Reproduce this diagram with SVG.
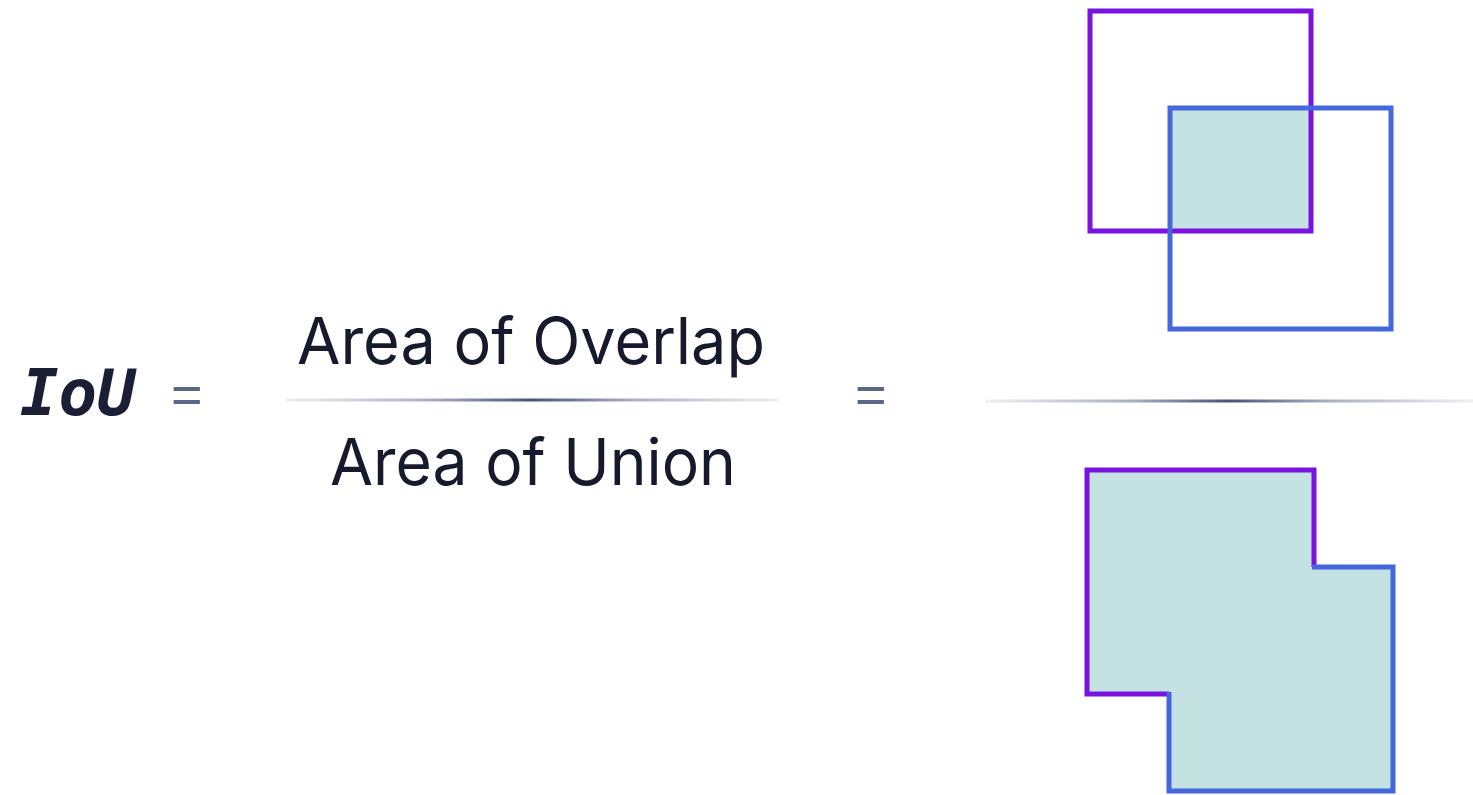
<svg xmlns="http://www.w3.org/2000/svg" width="1473" height="795" viewBox="0 0 1473 795">
<style>
.lbl{font-family:Inter,"Noto Sans","Liberation Sans",sans-serif;font-size:65px;fill:#151a2d}
.eq{font-family:"Liberation Sans",sans-serif;font-size:54px;fill:#5a6687}
.iou{font-family:"DejaVu Sans Mono","Liberation Mono",monospace;font-weight:bold;font-style:italic;font-size:64px;fill:#1a1f36}
.pur{fill:none;stroke:#7a12e0;stroke-width:5}
.blu{fill:none;stroke:#4467dc;stroke-width:5}
</style>
<defs>
<linearGradient id="gl" x1="0" x2="1" y1="0" y2="0">
<stop offset="0" stop-color="#eef0f3"/>
<stop offset="0.3" stop-color="#a9afc2"/>
<stop offset="0.5" stop-color="#4a537c"/>
<stop offset="0.7" stop-color="#a9afc2"/>
<stop offset="1" stop-color="#eef0f3"/>
</linearGradient>
</defs>
<rect width="1473" height="795" fill="#ffffff"/>
<g id="iou-label"><text class="iou" x="20" y="415">IoU</text></g>
<g id="eq1"><text class="eq" x="171" y="413">=</text></g>
<g id="fraction">
<text class="lbl" x="297" y="364" textLength="468" lengthAdjust="spacingAndGlyphs">Area of Overlap</text>
<rect x="285" y="398.5" width="493" height="3" fill="url(#gl)"/>
<text class="lbl" x="330" y="485" textLength="406" lengthAdjust="spacingAndGlyphs">Area of Union</text>
</g>
<g id="eq2"><text class="eq" x="855" y="413">=</text></g>
<g id="overlap-figure">
<rect x="1170" y="108" width="141" height="123" fill="#c5e2e3"/>
<rect class="pur" x="1090" y="11" width="221" height="220"/>
<rect class="blu" x="1170" y="108" width="221" height="221"/>
</g>
<g id="divider"><rect x="985" y="399.5" width="488" height="3" fill="url(#gl)"/></g>
<g id="union-figure">
<path d="M1087 470 H1314 V567 H1393 V791 H1169 V694 H1087 Z" fill="#c5e2e3"/>
<path class="pur" d="M1169 694 H1087 V470 H1314 V567"/>
<path class="blu" d="M1312 567 H1393 V791 H1169 V692"/>
</g>
</svg>
